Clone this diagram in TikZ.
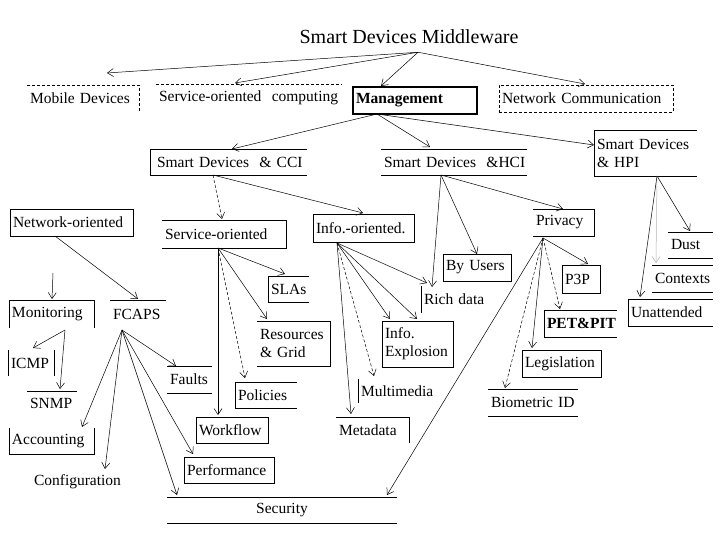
\documentclass[tikz,border=0pt]{standalone}
\usepackage{fontspec}
\setmainfont{Liberation Serif}
\usepackage{tikz}
\usetikzlibrary{arrows.meta}
\newcommand{\labfont}{\fontsize{15.5}{18}\selectfont\hyphenpenalty=10000\exhyphenpenalty=10000}
\newcommand{\headfont}{\fontsize{20}{24}\selectfont}
\tikzset{
  cell/.style 2 args={anchor=north west, text width=#1, minimum height=#2,
    inner xsep=3pt, inner ysep=0pt, outer sep=0pt, align=left, font=\labfont},
  rim/.style={line width=0.8pt},
  brk/.style={dash pattern=on 3pt off 2pt},
  arr/.style={-{Straight Barb[length=6pt,width=8pt]}, line width=0.5pt},
}

\begin{document}
\begin{tikzpicture}[x=1pt,y=-1pt]
\useasboundingbox (0,0) rectangle (720,540);

% top row
\node[font=\headfont, inner sep=2pt] (title) at (409,37) {Smart Devices Middleware};
\node[cell={106pt}{27pt}] (mob) at (27,85) {Mobile~Devices};
\node[cell={180pt}{28pt}] (soc) at (156,84) {Service-oriented~~computing};
\node[cell={118pt}{27pt}, font=\labfont\bfseries, draw, line width=1.8pt] (mgmt) at (353,87) {Management};
\node[cell={168pt}{27pt}, draw, rim, brk] (netc) at (499,85) {Network~Communication};

% interaction kinds
\node[cell={151pt}{26pt}] (cci) at (150,149) {\hspace*{4pt}Smart~Devices~~\&~CCI};
\node[cell={140pt}{26pt}] (hci) at (381,149) {Smart~Devices~~\&HCI};
\node[cell={97pt}{46pt}] (hpi) at (594,130) {Smart~Devices\\\&~HPI};

% third row
\node[cell={117pt}{27pt}, draw, rim] (neto) at (10,209) {Network-oriented};
\node[cell={118pt}{28pt}] (svco) at (162,220) {Service-oriented};
\node[cell={95pt}{28pt}, draw, rim] (info) at (313,214) {Info.-oriented.};
\node[cell={55pt}{27pt}] (priv) at (533,209) {Privacy};
\node[cell={62pt}{27pt}, draw, rim] (byu) at (443,254) {By~Users};
\node[cell={58pt}{27pt}] (rich) at (421,286) {Rich~data};
\node[cell={65pt}{46pt}, draw, rim] (expl) at (382,321) {Info.\\Explosion};
\node[cell={72pt}{24pt}] (mult) at (358,379) {Multimedia};
\node[cell={67pt}{26pt}] (meta) at (336,417) {Metadata};

% service side
\node[cell={35pt}{26pt}] (slas) at (268,276) {SLAs};
\node[cell={67pt}{45pt}] (res) at (257,321) {Resources\\\&~Grid};
\node[cell={56pt}{26pt}] (pol) at (235,382) {Policies};
\node[cell={66pt}{26pt}, draw, rim] (wf) at (196,417) {Workflow};

% network side
\node[cell={79pt}{28pt}] (mon) at (9,300) {Monitoring};
\node[cell={50pt}{28pt}] (fcaps) at (110,300) {FCAPS};
\node[cell={40pt}{26pt}] (icmp) at (8,350) {ICMP};
\node[cell={44pt}{25pt}] (snmp) at (27,391) {SNMP};
\node[cell={39pt}{27pt}] (flt) at (167,366) {Faults};
\node[cell={79pt}{26pt}] (acc) at (9,428) {Accounting};
\node[cell={86pt}{22pt}] (conf) at (31,471) {Configuration};
\node[cell={84pt}{26pt}, draw, rim] (perf) at (184,457) {Performance};
\node[cell={224pt}{26pt}, align=center] (sec) at (167,497) {Security};

% privacy and physical side
\node[cell={32pt}{28pt}, draw, rim] (p3p) at (562,265) {P3P};
\node[cell={67pt}{27pt}, font=\labfont\bfseries] (pet) at (544,310) {PET\&PIT};
\node[cell={73pt}{27pt}, draw, rim] (leg) at (522,350) {Legislation};
\node[cell={84pt}{27pt}] (bio) at (488,389) {Biometric~ID};
\node[cell={39pt}{26pt}] (dust) at (668,232) {Dust};
\node[cell={55pt}{27pt}] (ctx) at (652,265) {Contexts};
\node[cell={79pt}{27pt}] (una) at (628,299) {Unattended};

% open frames
\draw[rim,brk] (mob.north west) -- (mob.north east) -- (mob.south east);
\draw[rim,brk] (soc.north west) -- (soc.north east);
\foreach \n in {cci,hpi,slas,pol,pet,una}
  \draw[rim] (\n.north east) -- (\n.north west) -- (\n.south west) -- (\n.south east);
\foreach \n in {svco,priv,res}
  \draw[rim] (\n.north west) -- (\n.north east) -- (\n.south east) -- (\n.south west);
\foreach \n in {hci,flt,sec,bio,dust,ctx}
  \draw[rim] (\n.north west) -- (\n.north east) (\n.south west) -- (\n.south east);
\foreach \n in {fcaps,snmp}
  \draw[rim] (\n.north west) -- (\n.north east);
\foreach \n in {rich,mult}
  \draw[rim] (\n.north west) -- (\n.south west);
\draw[rim] (icmp.north west) -- (icmp.south west) (icmp.north east) -- (icmp.south east);
\draw[rim] (mon.south west) -- (mon.north west) -- (mon.north east) -- (mon.south east);
\draw[rim] (acc.north west) -- (acc.south west) -- (acc.south east) -- (acc.north east);
\draw[rim] (meta.north west) -- (meta.north east) -- (meta.south east);

% fan-out points
\coordinate (title-hub) at ([xshift=9pt,yshift=-6pt]title.south);
\coordinate (mgmt-hub) at ([xshift=24pt]mgmt.south west);
\coordinate (cci-hub) at ([xshift=63pt]cci.south west);
\coordinate (hci-hub) at ([xshift=60pt]hci.south west);
\coordinate (hpi-hub) at ([xshift=63pt]hpi.south west);
\coordinate (neto-hub) at ([xshift=45pt]neto.south west);
\coordinate (mon-hub) at ([xshift=56pt,yshift=-2pt]mon.south west);
\coordinate (fcaps-hub) at ([xshift=12pt,yshift=-2pt]fcaps.south west);
\coordinate (svco-hub) at ([xshift=56pt]svco.south west);
\coordinate (info-hub) at ([xshift=24pt,yshift=-1pt]info.south west);
\coordinate (priv-hub) at ([xshift=10pt,yshift=-2pt]priv.south west);

% arrows
\foreach \n/\dx/\dy in {mob/80pt/12pt, soc/79pt/1pt, mgmt/28pt/1pt, netc/86pt/1pt}
  \draw[arr] (title-hub) -- ([xshift=\dx,yshift=\dy]\n.north west);
\foreach \n/\dx/\dy in {cci/82pt/0pt, hci/49pt/2pt}
  \draw[arr] (mgmt-hub) -- ([xshift=\dx,yshift=\dy]\n.north west);
\draw[arr] (mgmt-hub) -- ([yshift=-15pt]hpi.north west);
\draw[arr,brk] (cci-hub) -- ([xshift=60pt,yshift=1pt]svco.north west);
\draw[arr] (cci-hub) -- ([xshift=50pt,yshift=1pt]info.north west);
\foreach \n/\dx/\dy in {byu/34pt/0pt, priv/30pt/0pt, rich/11pt/-1pt}
  \draw[arr] (hci-hub) -- ([xshift=\dx,yshift=\dy]\n.north west);
\draw[arr] (hpi-hub) -- ([xshift=22pt,yshift=1pt]dust.north west);
\draw[arr,gray!60] (hpi-hub) -- ([xshift=4pt,yshift=2pt]ctx.north west);
\draw[arr] (hpi-hub) -- ([xshift=12pt,yshift=2pt]una.north west);
\draw[arr] ([xshift=43pt,yshift=-37pt]neto.south west) -- ([xshift=43pt,yshift=1pt]mon.north west);
\draw[arr] (neto-hub) -- ([xshift=28pt,yshift=1pt]fcaps.north west);
\foreach \n/\dx/\dy in {icmp/25pt/2pt, snmp/33pt/2pt}
  \draw[arr] (mon-hub) -- ([xshift=\dx,yshift=\dy]\n.north west);
\foreach \n/\dx/\dy in {flt/9pt/0pt, acc/73pt/1pt, conf/74pt/2pt, perf/9pt/3pt, sec/10pt/2pt}
  \draw[arr] (fcaps-hub) -- ([xshift=\dx,yshift=\dy]\n.north west);
\foreach \n/\dx/\dy in {slas/17pt/2pt, res/10pt/2pt, wf/22pt/2pt}
  \draw[arr] (svco-hub) -- ([xshift=\dx,yshift=\dy]\n.north west);
\draw[arr,brk] (svco-hub) -- ([xshift=10pt,yshift=4pt]pol.north west);
\foreach \n/\dx/\dy in {rich/6pt/3pt, expl/8pt/2pt, expl/35pt/2pt, meta/15pt/3pt}
  \draw[arr] (info-hub) -- ([xshift=\dx,yshift=\dy]\n.north west);
\draw[arr,brk] (info-hub) -- ([xshift=16pt,yshift=3pt]mult.north west);
\foreach \n/\dx/\dy in {p3p/26pt/1pt, leg/10pt/2pt, sec/220pt/2pt}
  \draw[arr] (priv-hub) -- ([xshift=\dx,yshift=\dy]\n.north west);
\foreach \n/\dx/\dy in {pet/16pt/1pt, bio/17pt/1pt}
  \draw[arr,brk] (priv-hub) -- ([xshift=\dx,yshift=\dy]\n.north west);
\end{tikzpicture}
\end{document}
